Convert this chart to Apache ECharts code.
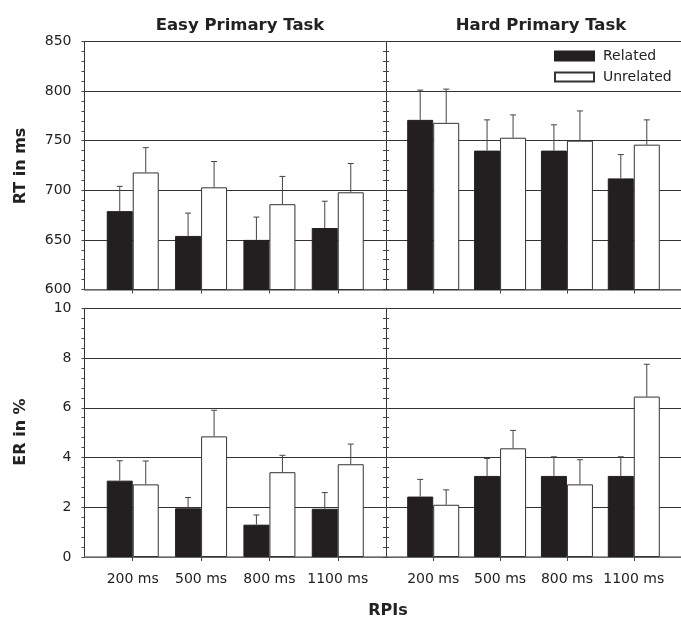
<!DOCTYPE html>
<html><head><meta charset="utf-8">
<script src="https://cdn.jsdelivr.net/npm/echarts@6/dist/echarts.min.js"></script>
<style>html,body{margin:0;padding:0;background:#fff}#c{width:681px;height:618px}</style>
</head><body><div id="c"></div>
<script>
const categories = ['200 ms', '500 ms', '800 ms', '1100 ms'];
const catIndex = [0, 1, 2, 3];

const rtEasyRelated = [679, 654, 650, 662];
const rtEasyRelatedErr = [25, 23, 23, 27];
const rtEasyUnrelated = [718, 703, 686, 698];
const rtEasyUnrelatedErr = [25, 26, 28, 29];
const rtHardRelated = [771, 740, 740, 712];
const rtHardRelatedErr = [30, 31, 26, 24];
const rtHardUnrelated = [768, 753, 750, 746];
const rtHardUnrelatedErr = [34, 23, 30, 25];

const erEasyRelated = [3.07, 1.96, 1.30, 1.94];
const erEasyRelatedErr = [0.80, 0.43, 0.39, 0.65];
const erEasyUnrelated = [2.92, 4.85, 3.41, 3.73];
const erEasyUnrelatedErr = [0.94, 1.05, 0.68, 0.81];
const erHardRelated = [2.43, 3.26, 3.26, 3.26];
const erHardRelatedErr = [0.69, 0.70, 0.77, 0.77];
const erHardUnrelated = [2.10, 4.37, 2.92, 6.45];
const erHardUnrelatedErr = [0.60, 0.72, 0.99, 1.30];

const rtAxis = {min: 600, max: 850, interval: 50};
const erAxis = {min: 0, max: 10, interval: 2};

const FONT = 'DejaVu Sans';
const BAR_W = 26;

const grids = [
  {left: 84.5, top: 41.5, width: 301.5, height: 248},
  {left: 386, top: 41.5, width: 302, height: 248},
  {left: 84.5, top: 308.3, width: 301.5, height: 248.7},
  {left: 386, top: 308.3, width: 302, height: 248.7}
];

function makeX(gi, showLabels) {
  return {
    type: 'value', gridIndex: gi, min: -0.706, max: 3.706,
    axisLine: {show: true, onZero: false, lineStyle: {color: '#7a7a7a', width: 1.5}},
    axisTick: {show: true, customValues: catIndex, length: 4, lineStyle: {color: '#444'}},
    axisLabel: {show: showLabels, customValues: catIndex, formatter: v => categories[Math.round(v)] || '',
      fontFamily: FONT, fontSize: 14, color: '#222', margin: 15},
    splitLine: {show: false}
  };
}
function makeY(gi, ax, opts) {
  return Object.assign({
    type: 'value', gridIndex: gi, min: ax.min, max: ax.max, interval: ax.interval,
    axisLine: {show: true, onZero: false, lineStyle: {color: '#333', width: 1}},
    axisTick: {show: true, inside: false, length: 3, lineStyle: {color: '#444'}},
    minorTick: {show: true, splitNumber: 5, length: 3, lineStyle: {color: '#444'}},
    axisLabel: {show: false},
    splitLine: {show: false}
  }, opts);
}

const labelStyle = {show: true, fontFamily: FONT, fontSize: 14, color: '#222', margin: 13};
const splitStyle = {show: true, lineStyle: {color: '#333', width: 1}};

const xAxes = [makeX(0, false), makeX(1, false), makeX(2, true), makeX(3, true)];
const yAxes = [
  makeY(0, rtAxis, {position: 'left', axisLabel: labelStyle, splitLine: splitStyle}), // 0
  makeY(0, rtAxis, {position: 'right'}),                                             // 1
  makeY(1, rtAxis, {position: 'left', splitLine: splitStyle}),                       // 2
  makeY(2, erAxis, {position: 'left', axisLabel: labelStyle, splitLine: splitStyle}), // 3
  makeY(2, erAxis, {position: 'right'}),                                             // 4
  makeY(3, erAxis, {position: 'left', splitLine: splitStyle})                        // 5
];

const panels = [
  {x: 0, y: 0, rel: rtEasyRelated, relE: rtEasyRelatedErr, unr: rtEasyUnrelated, unrE: rtEasyUnrelatedErr},
  {x: 1, y: 2, rel: rtHardRelated, relE: rtHardRelatedErr, unr: rtHardUnrelated, unrE: rtHardUnrelatedErr},
  {x: 2, y: 3, rel: erEasyRelated, relE: erEasyRelatedErr, unr: erEasyUnrelated, unrE: erEasyUnrelatedErr},
  {x: 3, y: 5, rel: erHardRelated, relE: erHardRelatedErr, unr: erHardUnrelated, unrE: erHardUnrelatedErr}
];

function errSeries(p, vals, errs, sign) {
  return {
    type: 'custom', xAxisIndex: p.x, yAxisIndex: p.y, z: 5, silent: true,
    data: catIndex.map(i => [i, vals[i], errs[i]]),
    renderItem: function (params, api) {
      const x = api.value(0), y = api.value(1), e = api.value(2);
      const p0 = api.coord([x, y]);
      const p1 = api.coord([x, y + e]);
      const cx = p0[0] + sign * BAR_W / 2;
      const st = {stroke: '#444', lineWidth: 1};
      return {type: 'group', children: [
        {type: 'line', shape: {x1: cx, y1: p0[1], x2: cx, y2: p1[1]}, style: st},
        {type: 'line', shape: {x1: cx - 3, y1: p1[1], x2: cx + 3, y2: p1[1]}, style: st}
      ]};
    }
  };
}

const series = [];
panels.forEach(p => {
  series.push({
    name: 'Related', type: 'bar', xAxisIndex: p.x, yAxisIndex: p.y, barWidth: BAR_W, barGap: '0%',
    data: catIndex.map(i => [i, p.rel[i]]),
    itemStyle: {color: '#231f20', borderColor: '#231f20', borderWidth: 1}, silent: true
  });
  series.push({
    name: 'Unrelated', type: 'bar', xAxisIndex: p.x, yAxisIndex: p.y, barWidth: BAR_W, barGap: '0%',
    data: catIndex.map(i => [i, p.unr[i]]),
    itemStyle: {color: '#ffffff', borderColor: '#333', borderWidth: 1}, silent: true
  });
  series.push(errSeries(p, p.rel, p.relE, -1));
  series.push(errSeries(p, p.unr, p.unrE, 1));
});

const chart = echarts.init(document.getElementById('c'), null, {renderer: 'canvas'});
chart.setOption({
  animation: false,
  backgroundColor: '#fff',
  textStyle: {fontFamily: FONT},
  title: [
    {text: 'Easy Primary Task', left: 235, top: 12, textAlign: 'center',
      textStyle: {fontFamily: FONT, fontSize: 16.5, fontWeight: 'bold', color: '#222'}},
    {text: 'Hard Primary Task', left: 536, top: 12, textAlign: 'center',
      textStyle: {fontFamily: FONT, fontSize: 16.5, fontWeight: 'bold', color: '#222'}}
  ],
  legend: {
    data: ['Related', 'Unrelated'], orient: 'vertical', left: 554, top: 49, padding: 0,
    itemWidth: 39, itemHeight: 9, itemGap: 7, icon: 'rect', selectedMode: false,
    textStyle: {fontFamily: FONT, fontSize: 14, color: '#222', lineHeight: 14, padding: [0, 0, 0, 4]}
  },
  grid: grids,
  xAxis: xAxes,
  yAxis: yAxes,
  series: series,
  graphic: [
    {type: 'text', x: 21, y: 166, rotation: Math.PI / 2,
      style: {text: 'RT in ms', font: 'bold 16px "DejaVu Sans"', fill: '#222', align: 'center', verticalAlign: 'middle'}},
    {type: 'text', x: 21, y: 432, rotation: Math.PI / 2,
      style: {text: 'ER in %', font: 'bold 16px "DejaVu Sans"', fill: '#222', align: 'center', verticalAlign: 'middle'}},
    {type: 'text', x: 388, y: 611,
      style: {text: 'RPIs', font: 'bold 16px "DejaVu Sans"', fill: '#222', align: 'center', verticalAlign: 'middle'}}
  ]
});
</script>
</body></html>
